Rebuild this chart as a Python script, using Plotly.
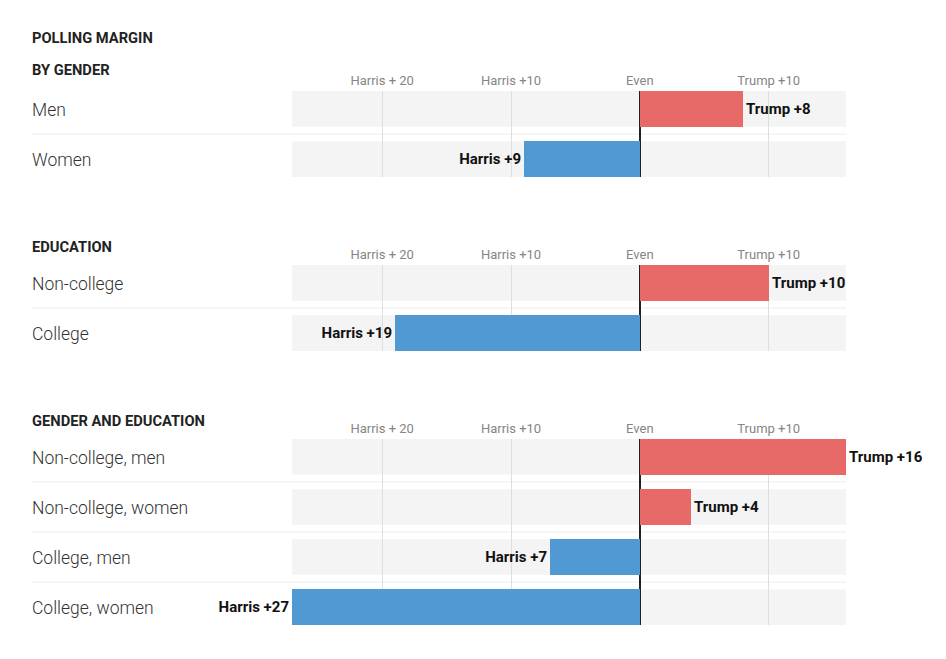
import plotly.graph_objects as go

# polling margin, positive = Trump lead, negative = Harris lead
section_titles = ["BY GENDER", "EDUCATION", "GENDER AND EDUCATION"]
gender_groups = ["Men", "Women"]
gender_margin = [8, -9]
education_groups = ["Non-college", "College"]
education_margin = [10, -19]
combo_groups = ["Non-college, men", "Non-college, women", "College, men", "College, women"]
combo_margin = [16, 4, -7, -27]

tick_vals = [-20, -10, 0, 10]
tick_text = ["Harris + 20", "Harris +10", "Even", "Trump +10"]
x_range = [-27, 16]

# page body has an 8px margin, so the figure sits at (8, 8)
OFF = 8
W, H = 946 - 2 * OFF, 659 - 2 * OFF
FONT = "Roboto"
RED = "#e76a69"
BLUE = "#5199d3"
BAR_W = 0.71


def px_x(p):
    return (p - OFF) / W


def px_y(p):
    return 1 - (p - OFF) / H


sections = [
    (gender_groups, gender_margin, (91, 177), 70),
    (education_groups, education_margin, (265, 351), 247),
    (combo_groups, combo_margin, (439, 625), 421),
]


def margin_label(v):
    return f"Trump +{v}" if v > 0 else f"Harris +{-v}"


fig = go.Figure()
shapes = []
annotations = [
    dict(text="POLLING MARGIN", x=px_x(30), y=px_y(38), xref="paper", yref="paper",
         xanchor="left", yanchor="middle", showarrow=False,
         font=dict(family=FONT, size=14.7, color="#222", weight="bold")),
]
x_left, x_right = px_x(292), px_x(846)

for k, (groups, margin, (top, bot), title_y) in enumerate(sections, start=1):
    sfx = "" if k == 1 else str(k)
    n = len(groups)
    rows = list(range(n))

    fig.add_trace(go.Bar(
        x=margin, y=rows, orientation="h", width=BAR_W,
        marker=dict(color=[RED if v > 0 else BLUE for v in margin], line=dict(width=0)),
        text=[margin_label(v) for v in margin], textposition="outside",
        textfont=dict(family=FONT, size=15, color="#111", weight="bold"),
        cliponaxis=False, hoverinfo="skip", showlegend=False,
        xaxis="x" + sfx, yaxis="y" + sfx,
    ))

    fig.update_layout({
        "xaxis" + sfx: dict(
            domain=[x_left, x_right], range=x_range, anchor="y" + sfx, side="top",
            tickvals=tick_vals, ticktext=tick_text, ticks="", ticklabelstandoff=2,
            tickfont=dict(family=FONT, size=13, color="#858585"),
            showgrid=True, gridcolor="#dedede", gridwidth=1,
            zeroline=True, zerolinecolor="#222", zerolinewidth=1.5,
            showline=False, fixedrange=True,
        ),
        "yaxis" + sfx: dict(
            domain=[px_y(bot), px_y(top)], range=[n - 1 + BAR_W / 2, -BAR_W / 2],
            anchor="x" + sfx, showticklabels=False, showgrid=False, zeroline=False,
            fixedrange=True,
        ),
    })

    annotations.append(dict(
        text=section_titles[k - 1], x=px_x(30), y=px_y(title_y), xref="paper", yref="paper",
        xanchor="left", yanchor="middle", showarrow=False,
        font=dict(family=FONT, size=14.7, color="#222", weight="bold"),
    ))

    for i, g in enumerate(groups):
        annotations.append(dict(
            text=g, x=px_x(30), y=i, xref="paper", yref="y" + sfx,
            xanchor="left", yanchor="middle", yshift=-1, showarrow=False,
            font=dict(family=FONT, size=17.5, color="#333", weight=300),
        ))
        shapes.append(dict(
            type="rect", xref="x" + sfx, yref="y" + sfx, x0=x_range[0], x1=x_range[1],
            y0=i - BAR_W / 2, y1=i + BAR_W / 2, fillcolor="#f4f4f4",
            line=dict(width=0), layer="below",
        ))
        if i < n - 1:
            shapes.append(dict(
                type="line", xref="paper", yref="y" + sfx, x0=px_x(32), x1=x_right,
                y0=i + 0.5, y1=i + 0.5, line=dict(color="#ececec", width=1), layer="below",
            ))

fig.update_layout(
    width=W, height=H, margin=dict(l=0, r=0, t=0, b=0),
    paper_bgcolor="white", plot_bgcolor="rgba(0,0,0,0)",
    shapes=shapes, annotations=annotations, bargap=0,
    font=dict(family=FONT),
)

fig.write_html("out.html")
